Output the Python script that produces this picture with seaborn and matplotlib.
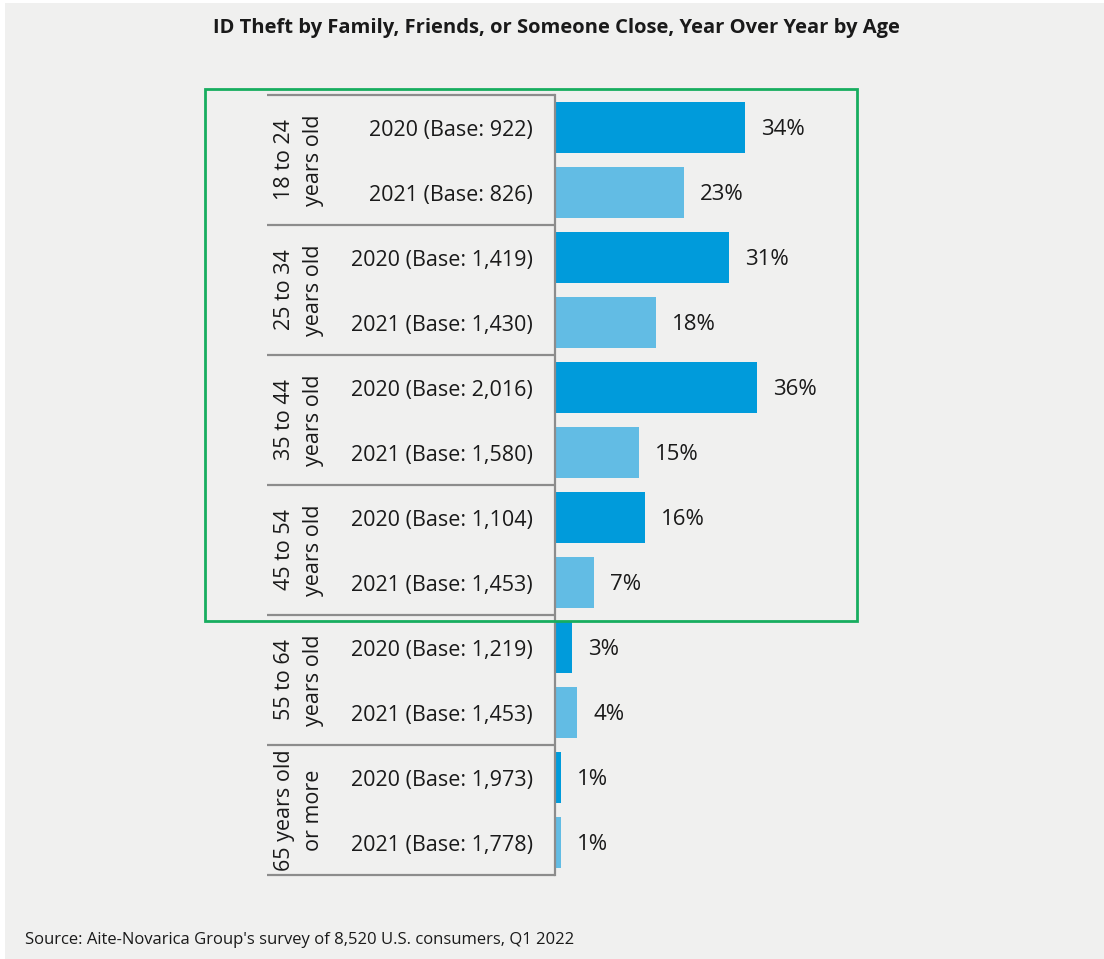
import matplotlib
matplotlib.use("Agg")
import matplotlib.pyplot as plt
import matplotlib.transforms as mtransforms
from matplotlib.patches import Rectangle
import seaborn as sns
import pandas as pd

# ---- data -------------------------------------------------------------
age_groups = ["18 to 24\nyears old", "25 to 34\nyears old", "35 to 44\nyears old",
              "45 to 54\nyears old", "55 to 64\nyears old", "65 years old\nor more"]
years = ["2020", "2021"]
bases_2020 = ["922", "1,419", "2,016", "1,104", "1,219", "1,973"]
bases_2021 = ["826", "1,430", "1,580", "1,453", "1,453", "1,778"]
pct_2020 = [34, 31, 36, 16, 3, 1]
pct_2021 = [23, 18, 15, 7, 4, 1]

title = "ID Theft by Family, Friends, or Someone Close, Year Over Year by Age"
source = "Source: Aite-Novarica Group's survey of 8,520 U.S. consumers, Q1 2022"

rows = []
for g, b20, b21, v20, v21 in zip(age_groups, bases_2020, bases_2021, pct_2020, pct_2021):
    rows.append({"group": g, "year": years[0], "label": f"{years[0]} (Base: {b20})", "value": v20})
    rows.append({"group": g, "year": years[1], "label": f"{years[1]} (Base: {b21})", "value": v21})
df = pd.DataFrame(rows)
df["row"] = [f"r{i:02d}" for i in range(len(df))]  # unique key per bar

# ---- style ------------------------------------------------------------
sns.set_theme(style="white")
FONT = ["Open Sans", "DejaVu Sans"]
plt.rcParams["font.family"] = FONT
BG = "#f0f0ef"
DARK = "#009bdb"
LIGHT = "#62bce4"
GREY = "#8c8c8c"
GREEN = "#17ad5f"
TEXT = "#1a1a1a"
FS = 15.5

W, H = 1104, 959
fig = plt.figure(figsize=(W / 100, H / 100), dpi=100, facecolor="white")
fig.patches.append(Rectangle((5 / W, 0), 1 - 5 / W, 1 - 3 / H, transform=fig.transFigure,
                             facecolor=BG, edgecolor="none", zorder=-10))

# axes: left edge at the category axis line
ax_left, ax_right = 555, 1085
ax_top, ax_bottom = 95, 875
ax = fig.add_axes([ax_left / W, 1 - ax_bottom / H, (ax_right - ax_left) / W,
                   (ax_bottom - ax_top) / H])
ax.set_facecolor("none")

sns.barplot(data=df, y="row", x="value", hue="year", palette=[DARK, LIGHT],
            dodge=False, width=0.77, legend=False, ax=ax, orient="h", saturation=1,
            errorbar=None, linewidth=0)

px_per_pct = 5.6
ax.set_xlim(0, (ax_right - ax_left) / px_per_pct)
ax.set_ylim(len(df) - 0.5, -0.5)
ax.set_xlabel("")
ax.set_ylabel("")
ax.set_xticks([])
ax.set_yticks(range(len(df)))
ax.set_yticklabels(df["label"])
ax.tick_params(axis="y", length=0, pad=16, labelsize=FS, labelcolor=TEXT)

for s in ["top", "right", "bottom"]:
    ax.spines[s].set_visible(False)
ax.spines["left"].set_color(GREY)
ax.spines["left"].set_linewidth(1.6)

# value labels
for i, v in enumerate(df["value"]):
    ax.annotate(f"{v}%", xy=(v, i), xytext=(16, -2), textcoords="offset pixels",
                va="center", ha="left", fontsize=16, color=TEXT)

# group separators and rotated group names
ax_w_px = ax_right - ax_left
sep_x0 = (267 - ax_left) / ax_w_px
trans = mtransforms.blended_transform_factory(ax.transAxes, ax.transData)
for k in range(len(age_groups) + 1):
    y = 2 * k - 0.5
    ax.plot([sep_x0, 0], [y, y], transform=trans, color=GREY, lw=1.6,
            clip_on=False, solid_capstyle="butt")
for k, g in enumerate(age_groups):
    ax.text((299 - ax_left) / ax_w_px, 2 * k + 0.5, g, transform=trans, rotation=90,
            ha="center", va="center", multialignment="center", fontsize=FS,
            color=TEXT, linespacing=1.45)

# highlight box around the four youngest groups
pad = 6 / (ax_bottom - ax_top) * len(df)
box_x0 = (205 - ax_left) / ax_w_px
box_x1 = (857 - ax_left) / ax_w_px
ax.add_patch(Rectangle((box_x0, -0.5 - pad), box_x1 - box_x0, 8 + 2 * pad,
                       transform=trans, fill=False, edgecolor=GREEN, lw=2,
                       clip_on=False, zorder=5))

fig.text(556 / W, 1 - 28 / H, title, ha="center", va="center", fontsize=14.5,
         fontweight="bold", color=TEXT)
fig.text(25 / W, 1 - 940 / H, source, ha="left", va="center", fontsize=12,
         color=TEXT)

fig.savefig("out.png", dpi=100, facecolor=fig.get_facecolor())
